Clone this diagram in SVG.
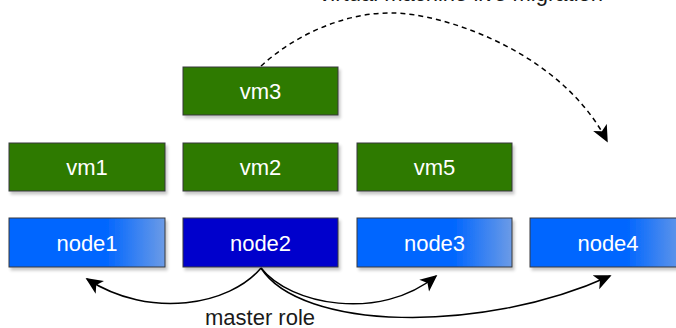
<svg xmlns="http://www.w3.org/2000/svg" width="676" height="328" viewBox="0 0 676 328">
<style>
.box{stroke:#36393d;stroke-width:1}
.vm{fill:#2F7A00}
.nd{fill:url(#blueGrad)}
.nd2{fill:#0000CC}
.lbl{font-family:"Liberation Sans",Arial,sans-serif;font-size:22px;fill:#ffffff;text-anchor:middle}
.txt{font-family:"Liberation Sans",Arial,sans-serif;font-size:22px;fill:#1a1a1a}
.edge{fill:none;stroke:#000000;stroke-width:1.5}
.dash{stroke-dasharray:5 4}
</style>
<defs>
<linearGradient id="blueGrad" x1="0" y1="0" x2="1" y2="0">
<stop offset="0" stop-color="#0066FF"/>
<stop offset="0.62" stop-color="#0066FF"/>
<stop offset="1" stop-color="#6C9BE6"/>
</linearGradient>
<filter id="shadow" x="-10%" y="-20%" width="130%" height="160%">
<feDropShadow dx="2" dy="3" stdDeviation="1.6" flood-color="#000000" flood-opacity="0.22"/>
</filter>
<marker id="arrL" viewBox="0 0 10 10" refX="9" refY="5" markerWidth="17" markerHeight="17" markerUnits="userSpaceOnUse" orient="auto">
<path d="M0,0.5 L10,5 L0,9.5 L2.5,5 Z" fill="#000000"/>
</marker>
</defs>
<text class="txt" x="603" y="0.5" text-anchor="end">virtual machine live migration</text>
<g id="connectors">
<path class="edge dash" d="M261,66 C295,35 345,12 393,13 C440,13 560,50 607,141" marker-end="url(#arrL)"/>
<path class="edge" d="M261,268 C230,305 150,320 87,279" marker-end="url(#arrL)"/>
<path class="edge" d="M261,268 C290,305 380,322 436,276" marker-end="url(#arrL)"/>
<path class="edge" d="M261,268 C300,330 480,335 610,276" marker-end="url(#arrL)"/>
</g>
<g id="vm3"><rect class="box vm" x="183" y="67" width="155" height="48" filter="url(#shadow)"/><text class="lbl" x="260.5" y="99">vm3</text></g>
<g id="vm1"><rect class="box vm" x="9" y="143" width="156" height="48" filter="url(#shadow)"/><text class="lbl" x="87" y="175">vm1</text></g>
<g id="vm2"><rect class="box vm" x="183" y="143" width="155" height="48" filter="url(#shadow)"/><text class="lbl" x="260.5" y="175">vm2</text></g>
<g id="vm5"><rect class="box vm" x="357" y="143" width="155" height="48" filter="url(#shadow)"/><text class="lbl" x="434.5" y="175">vm5</text></g>
<g id="node1"><rect class="box nd" x="9" y="218" width="156" height="49" filter="url(#shadow)"/><text class="lbl" x="87" y="251">node1</text></g>
<g id="node2"><rect class="box nd2" x="183" y="218" width="155" height="49" filter="url(#shadow)"/><text class="lbl" x="260.5" y="251">node2</text></g>
<g id="node3"><rect class="box nd" x="357" y="218" width="155" height="49" filter="url(#shadow)"/><text class="lbl" x="434.5" y="251">node3</text></g>
<g id="node4"><rect class="box nd" x="530" y="218" width="156" height="49" filter="url(#shadow)"/><text class="lbl" x="608" y="251">node4</text></g>
<text class="txt" x="260" y="325" text-anchor="middle">master role</text>
</svg>
